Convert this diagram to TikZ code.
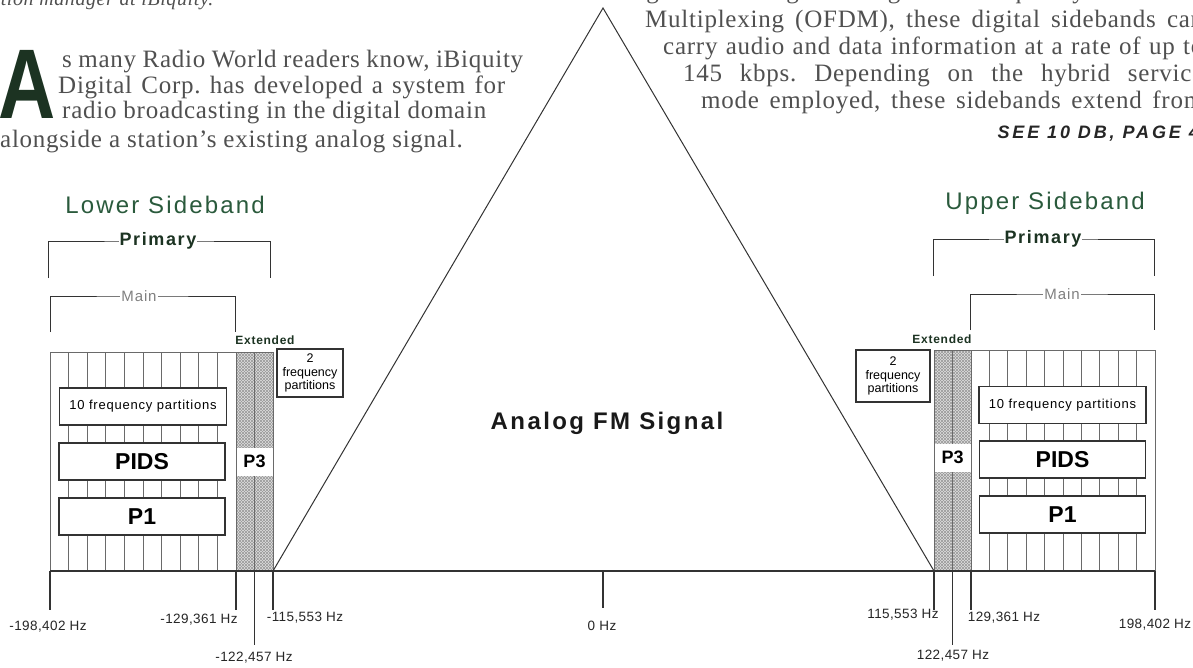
\documentclass[tikz,border=0pt]{standalone}
\usepackage{fontspec}
\setmainfont{Liberation Serif}
\newfontfamily\paraf[LetterSpace=3]{Liberation Serif}
\newfontfamily\paraital[LetterSpace=3]{Liberation Serif Italic}
\newfontfamily\sansf{Liberation Sans}
\newfontfamily\sanssp[LetterSpace=6]{Liberation Sans}
\newfontfamily\ttlf[LetterSpace=9]{Liberation Sans}
\newfontfamily\primf[LetterSpace=9]{Liberation Sans}
\newfontfamily\afmf[LetterSpace=10]{Liberation Sans}
\newfontfamily\seef[LetterSpace=16]{Liberation Sans}
\newfontfamily\lblf[LetterSpace=3]{Liberation Sans}
\usetikzlibrary{patterns}
\definecolor{txtgray}{HTML}{505050}
\definecolor{dgreen}{HTML}{2A5A3C}
\definecolor{dkgreen}{HTML}{1C3322}
\definecolor{linec}{HTML}{333333}
\definecolor{gridc}{HTML}{6A6A6A}
\newcommand\jline[2]{\makebox[#1pt][s]{#2}}
\tikzset{
  para/.style={font=\paraf\frenchspacing\fontsize{25}{26}\selectfont, text=txtgray, inner sep=0pt, anchor=base west},
  ttl/.style={font=\ttlf\fontsize{24}{26}\selectfont, text=dgreen, inner sep=0pt},
  prim/.style={font=\primf\bfseries\fontsize{18}{20}\selectfont, text=dkgreen, fill=white, inner sep=1pt},
  mainlab/.style={font=\sanssp\fontsize{15}{17}\selectfont, text=gray, fill=white, inner sep=1pt},
  extlab/.style={font=\sanssp\bfseries\fontsize{12}{14}\selectfont, text=dkgreen, inner sep=0pt},
  hz/.style={font=\lblf\fontsize{13.5}{15}\selectfont, text=black!85, inner sep=0pt},
  pbox/.style={draw=linec, line width=1.3pt, fill=white, inner sep=0pt, text=black},
  bigb/.style={pbox, font=\sansf\bfseries\fontsize{23}{26}\selectfont, minimum width=166pt, minimum height=37pt},
  fbox/.style={pbox, font=\sanssp\fontsize{13}{15}\selectfont, minimum width=167pt, minimum height=37pt},
  p3box/.style={fill=white, inner sep=0pt, font=\sansf\bfseries\fontsize{18}{20}\selectfont, minimum width=36pt, minimum height=28pt},
  twobox/.style={pbox, font=\sansf\fontsize{12.5}{13.5}\selectfont, align=center},
  brk/.style={draw=linec, line width=1pt},
  gridl/.style={draw=gridc, line width=0.8pt},
  axis/.style={draw=linec, line width=1.1pt},
  hatch/.style={fill=gray!25},
}
\begin{document}
\begin{tikzpicture}[x=1pt,y=-1pt]
\useasboundingbox (0,0) rectangle (1193,667);
\clip (0,0) rectangle (1193,667);
\fill[white] (0,0) rectangle (1193,667);

% ---------- article text ----------
\node[para, font=\paraital\fontsize{20}{22}\selectfont] (cut1) at (-10,5) {ation manager at iBiquity.};
\node[inner sep=0pt, anchor=base west, text=dkgreen, font=\sansf\bfseries\fontsize{99}{99}\selectfont] (dropA) at (-2,118) {\scalebox{0.8}[1]{A}};
\node[para] (l1) at (62,67) {\jline{461}{s many Radio World readers know, iBiquity}};
\node[para] (l2) at (58,93) {\jline{447}{Digital Corp. has developed a system for}};
\node[para] (l3) at (62,118) {\jline{424}{radio broadcasting in the digital domain}};
\node[para] (l4) at (0,147) {alongside a station’s existing analog signal.};

\node[para] (r0) at (628,-2) {\jline{575}{signals. Using Orthogonal Frequency Division}};
\node[para] (r1) at (645,27) {\jline{558}{Multiplexing (OFDM), these digital sidebands can}};
\node[para] (r2) at (663,54) {\jline{540}{carry audio and data information at a rate of up to}};
\node[para] (r3) at (683,81) {\jline{520}{145 kbps. Depending on the hybrid service}};
\node[para] (r4) at (701,108) {\jline{502}{mode employed, these sidebands extend from}};
\node[inner sep=0pt, anchor=base east, font=\seef\bfseries\itshape\fontsize{18}{20}\selectfont, text=black!85] (see) at (1199,138) {SEE 10 DB, PAGE 4};

% ---------- hatched extended regions ----------
\fill[hatch] (236,352) rectangle (273,571);
\fill[pattern=north east lines, pattern color=gray!80] (236,352) rectangle (273,571);
\fill[pattern=north west lines, pattern color=gray!80] (236,352) rectangle (273,571);
\fill[hatch] (934,350) rectangle (971,571);
\fill[pattern=north east lines, pattern color=gray!80] (934,350) rectangle (971,571);
\fill[pattern=north west lines, pattern color=gray!80] (934,350) rectangle (971,571);
\draw[gridl] (236,352) rectangle (273,571);
\draw[gridl] (254.5,352) -- (254.5,571);
\draw[gridl] (934,350) rectangle (971,571);
\draw[gridl] (952.5,350) -- (952.5,571);

% ---------- main partitions grid ----------
\draw[gridl] (50,352) -- (236,352);
\foreach \i in {0,...,10} { \draw[gridl] ({50+18.6*\i},352) -- ({50+18.6*\i},571); }
\draw[gridl] (971,350) -- (1155,350);
\foreach \i in {0,...,10} { \draw[gridl] ({971+18.4*\i},350) -- ({971+18.4*\i},571); }

% ---------- boxes ----------
\node[fbox] (f10L) at (143,406.5) {10 frequency partitions};
\node[bigb] (pidsL) at (142,461.5) {PIDS};
\node[bigb] (p1L) at (142,516.5) {P1};
\node[p3box] (p3L) at (254.5,461.5) {P3};
\node[twobox, minimum width=66pt, minimum height=48pt] (f2L) at (310,373) {2\\frequency\\partitions};

\node[fbox] (f10R) at (1062.5,405) {10 frequency partitions};
\node[bigb] (pidsR) at (1062.5,459.5) {PIDS};
\node[bigb] (p1R) at (1062.5,514.5) {P1};
\node[p3box] (p3R) at (952.5,457.5) {P3};
\node[twobox, minimum width=74pt, minimum height=52pt] (f2R) at (893,376) {2\\frequency\\partitions};

% ---------- brackets ----------
\coordinate (pLa) at (48,278); \coordinate (pLb) at (270,278);
\draw[brk] (pLa) |- (159,241) -| (pLb);
\node[prim] (primL) at (158,241) {Primary};
\coordinate (mLa) at (50,332); \coordinate (mLb) at (235,332);
\draw[brk] (mLa) |- (142,296) -| (mLb);
\node[mainlab] (mainL) at (139,296) {Main};
\node[extlab] (extL) at (265,340) {Extended};
\node[ttl] (lsb) at (165,205) {Lower Sideband};

\coordinate (pRa) at (933,276); \coordinate (pRb) at (1154,276);
\draw[brk] (pRa) |- (1043,239) -| (pRb);
\node[prim] (primR) at (1043,239) {Primary};
\coordinate (mRa) at (970,330); \coordinate (mRb) at (1154,330);
\draw[brk] (mRa) |- (1062,294) -| (mRb);
\node[mainlab] (mainR) at (1062,294) {Main};
\node[extlab] (extR) at (942,339) {Extended};
\node[ttl] (usb) at (1045,203) {Upper Sideband};

% ---------- analog FM triangle ----------
\coordinate (apex) at (603,8);
\coordinate (bl) at (273,571);
\coordinate (br) at (934,571);
\draw[draw=linec, line width=1pt, line join=miter] (bl) -- (apex) -- (br);
\node[font=\afmf\bfseries\fontsize{24}{26}\selectfont, text=black!90, inner sep=0pt] (afm) at (607,423) {Analog FM Signal};

% ---------- frequency axis ----------
\coordinate (axL) at (50,571); \coordinate (axR) at (1155,571);
\draw[axis] (axL) -- (axR);
\foreach \nm/\xx/\yy in {tA/50/610, tB/236/610, tC/254.5/645, tD/273/610, tE/603/608, tF/934/610, tG/952.5/645, tH/971/610, tI/1155/610} {
  \coordinate (\nm top) at (\xx,571);
  \coordinate (\nm bot) at (\xx,\yy);
  \draw[axis] (\nm top) -- (\nm bot);
}
\node[hz] (hA) at (48,627) {-198,402 Hz};
\node[hz] (hB) at (199,620) {-129,361 Hz};
\node[hz] (hC) at (254,658) {-122,457 Hz};
\node[hz] (hD) at (305,618) {-115,553 Hz};
\node[hz] (hE) at (602,626) {0 Hz};
\node[hz] (hF) at (903,615) {115,553 Hz};
\node[hz] (hG) at (953,656) {122,457 Hz};
\node[hz] (hH) at (1004,618) {129,361 Hz};
\node[hz] (hI) at (1155,625) {198,402 Hz};
\end{tikzpicture}
\end{document}
